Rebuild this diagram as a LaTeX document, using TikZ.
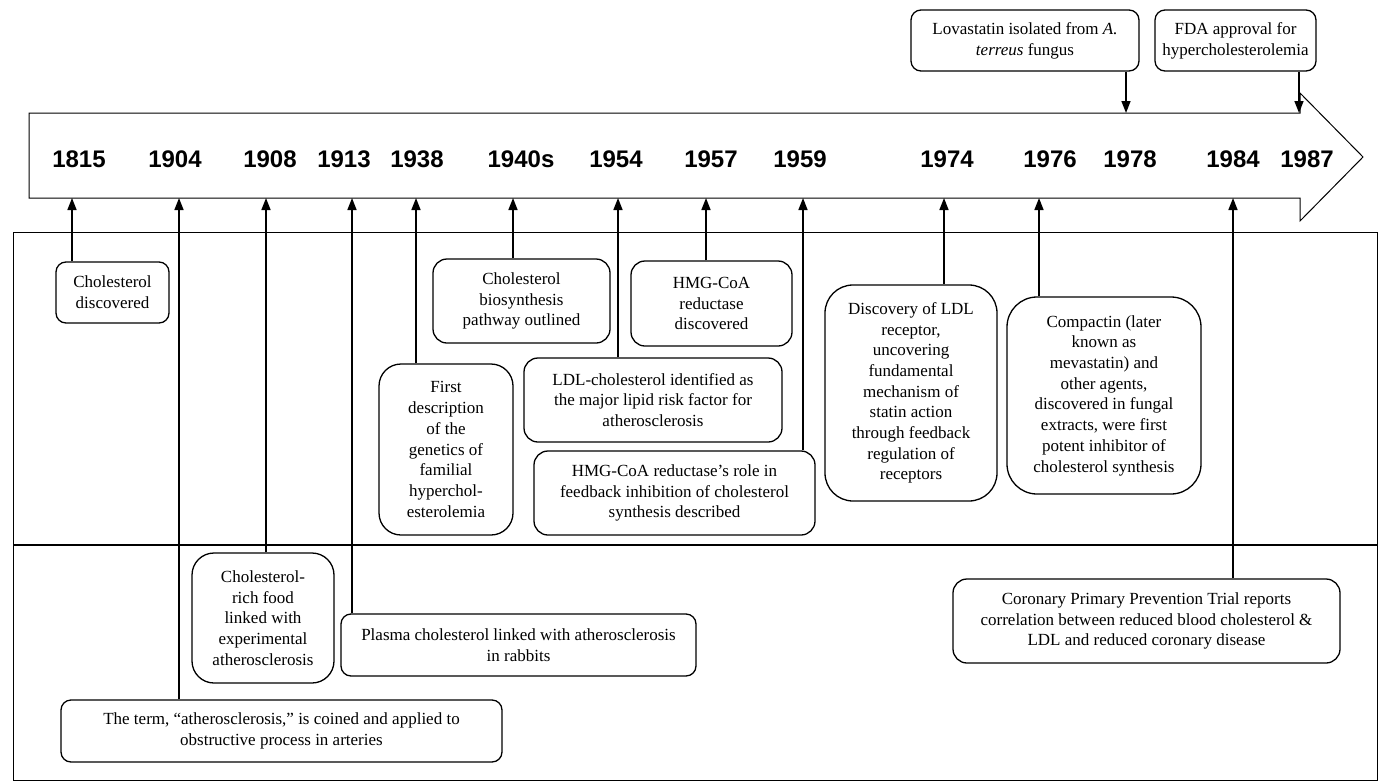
\documentclass[tikz,border=0pt]{standalone}
\usepackage{fontspec}
\setmainfont{Liberation Serif}
\newfontfamily\yearfont{Liberation Sans}
\usetikzlibrary{arrows.meta,positioning}
\tikzset{
  evt/.style={draw=black,line width=1.3pt,rounded corners=#1,align=center,
              inner sep=2pt,font=\fontsize{17}{20.7}\selectfont},
  evt/.default=10pt,
  yr/.style={font=\yearfont\bfseries\fontsize{24}{28}\selectfont,anchor=base,inner sep=0pt},
  flow/.style={-{Triangle[length=12pt,width=9pt]},line width=1.5pt},
  band/.style={line width=1pt},
}

\begin{document}
\begin{tikzpicture}[x=1pt,y=-1pt]
  \useasboundingbox (0,0) rectangle (1382,782);

  % sageata mare a axei timpului
  \draw[band] (29,113) -- (1300,113) -- (1300,93) -- (1363,157)
    -- (1300,221) -- (1300,198) -- (29,198) -- cycle;

  % anii, pe axa
  \foreach \x/\an in {79/1815,175/1904,270/1908,344/1913,417/1938,521/1940s,
                      616/1954,711/1957,800/1959,947/1974,1050/1976,1130/1978,
                      1233/1984,1307/1987}
    \node[yr] (y\an) at (\x,167) {\an};

  % punctele unde sagetile ating axa (jos si sus)
  \foreach \x/\an in {72/1815,179/1904,266/1908,352/1913,416/1938,513/1940s,
                      618/1954,706/1957,803/1959,944/1974,1039/1976,1233/1984}
    \coordinate (t\an) at (\x,198);
  \foreach \x/\an in {1126/1978,1299/1987}
    \coordinate (t\an) at (\x,113);

  % cadrul de jos, impartit in doua benzi
  \draw[band] (13,232) rectangle (1377,780);
  \draw[line width=2pt] (13,545) -- (1377,545);

  % evenimente deasupra axei
  \node[evt,minimum width=228,minimum height=61] (lova) at (1025,40.5)
    {Lovastatin isolated from \textit{A.}\\\textit{terreus} fungus};
  \node[evt,minimum width=161,minimum height=61] (fda) at (1235.5,40.5)
    {FDA approval for\\hypercholesterolemia};

  % banda de sus
  \node[evt,minimum width=113,minimum height=61] (disc) at (112.5,292.5)
    {Cholesterol\\discovered};
  \node[evt=14pt,minimum width=177,minimum height=84] (bio) at (521.5,301)
    {Cholesterol\\biosynthesis\\pathway outlined};
  \node[evt=14pt,minimum width=161,minimum height=85] (hmg) at (711.5,303.5)
    {HMG-CoA\\reductase\\discovered};
  \node[evt=14pt,minimum width=258,minimum height=84] (ldl) at (653,400)
    {LDL-cholesterol identified as\\the major lipid risk factor for\\atherosclerosis};
  \node[evt=14pt,minimum width=281,minimum height=84] (role) at (674.5,493)
    {HMG-CoA reductase’s role in\\feedback inhibition of cholesterol\\synthesis described};
  \node[evt=22pt,minimum width=134,minimum height=171] (gen) at (446,449.5)
    {First\\description\\of the\\genetics of\\familial\\hyperchol-\\esterolemia};
  \node[evt=28pt,minimum width=172,minimum height=216] (rec) at (911,393)
    {Discovery of LDL\\receptor,\\uncovering\\fundamental\\mechanism of\\statin action\\through feedback\\regulation of\\receptors};
  \node[evt=30pt,minimum width=194,minimum height=197] (comp) at (1104,395.5)
    {Compactin (later\\known as\\mevastatin) and\\other agents,\\discovered in fungal\\extracts, were first\\potent inhibitor of\\cholesterol synthesis};

  % banda de jos
  \node[evt=22pt,minimum width=142,minimum height=130] (food) at (263,618)
    {Cholesterol-\\rich food\\linked with\\experimental\\atherosclerosis};
  \node[evt,minimum width=355,minimum height=62] (plasma) at (518.5,645)
    {Plasma cholesterol linked with atherosclerosis\\in rabbits};
  \node[evt,minimum width=441,minimum height=62] (term) at (281.5,731)
    {The term, “atherosclerosis,” is coined and applied to\\obstructive process in arteries};
  \node[evt=14pt,minimum width=387,minimum height=84] (cppt) at (1146.5,621)
    {Coronary Primary Prevention Trial reports\\correlation between reduced blood cholesterol \&\\LDL and reduced coronary disease};

  % legaturi cutie -> an
  \foreach \bx/\an in {disc/1815,term/1904,food/1908,plasma/1913,gen/1938,
                       bio/1940s,ldl/1954,hmg/1957,role/1959,rec/1974,
                       comp/1976,cppt/1984}
    \draw[flow] (\bx.north -| t\an) -- (t\an);
  \foreach \bx/\an in {lova/1978,fda/1987}
    \draw[flow] (\bx.south -| t\an) -- (t\an);
\end{tikzpicture}
\end{document}
